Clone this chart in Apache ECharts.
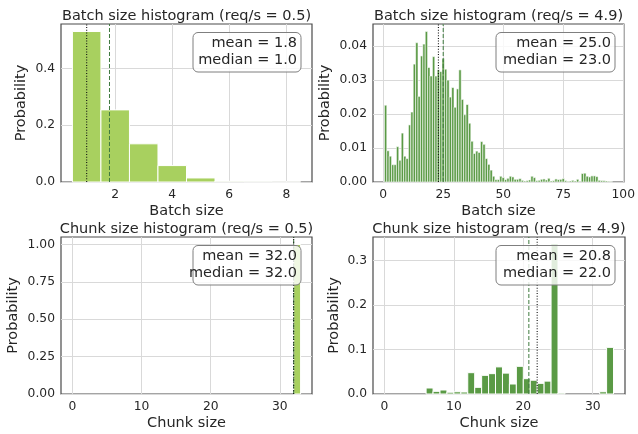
<!DOCTYPE html>
<html>
<head>
<meta charset="utf-8">
<script src="https://cdn.jsdelivr.net/npm/echarts@6/dist/echarts.min.js"></script>
<style>
html,body{margin:0;padding:0;background:#fff;}
#c{width:638px;height:434px;}
</style>
</head>
<body>
<div id="c"></div>
<script>
// ---------- data ----------
const titles = ['Batch size histogram (req/s = 0.5)', 'Batch size histogram (req/s = 4.9)',
                'Chunk size histogram (req/s = 0.5)', 'Chunk size histogram (req/s = 4.9)'];
const xLabels = ['Batch size', 'Batch size', 'Chunk size', 'Chunk size'];
const yLabel = 'Probability';
const means = [1.8, 25.0, 32.0, 20.8];
const medians = [1.0, 23.0, 32.0, 22.0];

// panel 1: batch size, 0.5 req/s (bins centred on integers)
const batchLowBins = [1, 2, 3, 4, 5, 6, 7, 8];
const batchLowProb = [0.530, 0.254, 0.1345, 0.0578, 0.0142, 0.0025, 0.001, 0.0005];

// panel 2: batch size, 4.9 req/s (bins centred on integers 1..95)
const batchHighBins = [];
for (let i = 1; i <= 95; i++) batchHighBins.push(i);
const batchHighProb = [
  0.0226, 0.0092, 0.0076, 0.0051, 0.0051, 0.0104, 0.0064, 0.0144, 0.0076, 0.0069,
  0.0168, 0.0206, 0.0347, 0.0410, 0.0252, 0.0371, 0.0406, 0.0443, 0.0337, 0.0312,
  0.0369, 0.0312, 0.0330, 0.0325, 0.0363, 0.0332, 0.0300, 0.0250, 0.0278, 0.0220,
  0.0274, 0.0330, 0.0243, 0.0198, 0.0228, 0.0173, 0.0120, 0.0084, 0.0091, 0.0087,
  0.0119, 0.0111, 0.0069, 0.0052, 0.0035, 0.0017, 0.0007, 0.0007, 0.0017, 0.0013,
  0.0007, 0.0011, 0.0017, 0.0015, 0.0008, 0.0008, 0.0010, 0.0005, 0.0003, 0.0004,
  0.0006, 0.0017, 0.0013, 0.0004, 0.0005, 0.0008, 0.0009, 0.0006, 0.0011, 0.0003,
  0.0004, 0.0009, 0.0007, 0.0008, 0.0010, 0.0004, 0.0002, 0.0003, 0.0005, 0.0003,
  0.0008, 0.0002, 0.0025, 0.0026, 0.0017, 0.0015, 0.0018, 0.0018, 0.0016, 0.0005,
  0.0004, 0.0004, 0.0003, 0.0002, 0.0001
];

// panel 3: chunk size, 0.5 req/s (bins [n, n+1))
const chunkLowBins = [32];
const chunkLowProb = [1.0];

// panel 4: chunk size, 4.9 req/s
const chunkHighBins = [6, 7, 8, 9, 10, 11, 12, 13, 14, 15, 16, 17, 18, 19, 20, 21, 22, 23, 24, 25, 31, 32];
const chunkHighProb = [0.0135, 0.006, 0.009, 0.004, 0.005, 0.0045, 0.048, 0.015, 0.042, 0.0458,
                       0.061, 0.047, 0.0225, 0.0623, 0.0345, 0.031, 0.024, 0.029, 0.337, 0.002,
                       0.005, 0.105];

// tick labels
const xTicks = [[2, 4, 6, 8], [0, 25, 50, 75, 100], [0, 10, 20, 30], [0, 10, 20, 30]];
const yTicks = [[0, 0.2, 0.4], [0, 0.01, 0.02, 0.03, 0.04], [0, 0.25, 0.5, 0.75, 1.0], [0, 0.1, 0.2, 0.3]];
const yDecimals = [1, 2, 2, 1];

// ---------- layout / style ----------
const FONT = 'DejaVu Sans';
const TXT = '#262626';
const LIGHT = '#a8d05f';
const DARK = '#5a9a45';
const grids = [
  {left: 61, top: 24, width: 251, height: 158},
  {left: 373, top: 24, width: 251, height: 158},
  {left: 61, top: 237, width: 251, height: 157},
  {left: 373, top: 237, width: 252, height: 157}
];
const xRanges = [[0.1, 8.9], [-4.25, 100.25], [-1.65, 34.65], [-1.65, 34.65]];
const yMax = [0.5565, 0.0465, 1.05, 0.3534];

const panels = [
  {bins: batchLowBins, probs: batchLowProb, off: -0.5, color: LIGHT, edge: 1},
  {bins: batchHighBins, probs: batchHighProb, off: -0.5, color: DARK, edge: 0.6},
  {bins: chunkLowBins, probs: chunkLowProb, off: 0, color: LIGHT, edge: 1},
  {bins: chunkHighBins, probs: chunkHighProb, off: 0, color: DARK, edge: 1}
];

function barRender(color, edge) {
  return function (params, api) {
    const x0 = api.value(0), x1 = api.value(1), v = api.value(2);
    const p0 = api.coord([x0, v]);
    const p1 = api.coord([x1, 0]);
    return {
      type: 'rect',
      shape: {x: p0[0], y: p0[1], width: p1[0] - p0[0], height: p1[1] - p0[1]},
      style: {fill: color, stroke: '#ffffff', lineWidth: edge}
    };
  };
}
function vlineRender(params, api) {
  const x = api.value(0), kind = api.value(1);
  const p = api.coord([x, 0]);
  const cs = params.coordSys;
  return {
    type: 'line',
    shape: {x1: p[0], y1: cs.y + cs.height, x2: p[0], y2: cs.y},
    style: kind === 0
      ? {stroke: '#3f7a3f', lineWidth: 1, lineDash: [4, 2]}
      : {stroke: '#111111', lineWidth: 1.1, lineDash: [1, 1.7]},
    z2: 5
  };
}

const gridOpt = [], xAxes = [], yAxes = [], series = [];
grids.forEach((g, i) => {
  gridOpt.push(Object.assign({show: true, borderColor: '#4a4a4a', borderWidth: 1.2, backgroundColor: '#fff'}, g));
  xAxes.push({
    type: 'value', gridIndex: i, min: xRanges[i][0], max: xRanges[i][1],
    axisLine: {show: false}, axisTick: {show: false, customValues: xTicks[i]},
    axisLabel: {customValues: xTicks[i], color: TXT, fontFamily: FONT, fontSize: 12.3, margin: 7,
                formatter: v => String(v)},
    splitLine: {show: true, lineStyle: {color: '#d9d9d9', width: 1}}
  });
  yAxes.push({
    type: 'value', gridIndex: i, min: 0, max: yMax[i],
    axisLine: {show: false}, axisTick: {show: false, customValues: yTicks[i]},
    axisLabel: {customValues: yTicks[i], color: TXT, fontFamily: FONT, fontSize: 12.3, margin: 6,
                formatter: v => Number(v).toFixed(yDecimals[i])},
    splitLine: {show: true, lineStyle: {color: '#d9d9d9', width: 1}}
  });
  const p = panels[i];
  const data = p.bins.map((b, k) => [b + p.off, b + p.off + 1, p.probs[k]]);
  series.push({
    type: 'custom', xAxisIndex: i, yAxisIndex: i, renderItem: barRender(p.color, p.edge),
    data: data, encode: {x: [0, 1], y: 2}, silent: true, z: 2
  });
  series.push({
    type: 'custom', xAxisIndex: i, yAxisIndex: i, renderItem: vlineRender,
    data: [[means[i], 0], [medians[i], 1]], encode: {x: 0}, silent: true, z: 3
  });
});

const option = {
  animation: false,
  backgroundColor: '#ffffff',
  grid: gridOpt, xAxis: xAxes, yAxis: yAxes, series: series
};
const chart = echarts.init(document.getElementById('c'), null, {renderer: 'canvas'});
chart.setOption(option);

// text elements (titles, axis names, stat boxes)
const els = [];
const ylabX = [21, 325, 13, 334];
grids.forEach((g, i) => {
  els.push({type: 'text', x: g.left + g.width / 2, y: g.top - 7.5, z: 50,
    style: {text: titles[i], fill: TXT, font: '14.5px "' + FONT + '"', align: 'center', verticalAlign: 'middle'}});
  els.push({type: 'text', x: g.left + g.width / 2, y: g.top + g.height + 29, z: 50,
    style: {text: xLabels[i], fill: TXT, font: '14.5px "' + FONT + '"', align: 'center', verticalAlign: 'middle'}});
  els.push({type: 'text', x: ylabX[i], y: g.top + g.height / 2, rotation: Math.PI / 2, z: 50,
    style: {text: yLabel, fill: TXT, font: '14.5px "' + FONT + '"', align: 'center', verticalAlign: 'middle'}});
  const bx = i % 2 === 0 ? [193, 301] : [496, 615];
  const by = g.top + 8.5;
  els.push({type: 'rect', shape: {x: bx[0], y: by, width: bx[1] - bx[0], height: 39.5, r: 5}, z: 60,
    style: {fill: 'rgba(255,255,255,0.82)', stroke: '#7f7f7f', lineWidth: 1}});
  els.push({type: 'text', x: bx[1] - 4, y: by + 10.5, z: 61,
    style: {text: 'mean = ' + means[i].toFixed(1), fill: TXT, font: '14.5px "' + FONT + '"', align: 'right', verticalAlign: 'middle'}});
  els.push({type: 'text', x: bx[1] - 4, y: by + 28, z: 61,
    style: {text: 'median = ' + medians[i].toFixed(1), fill: TXT, font: '14.5px "' + FONT + '"', align: 'right', verticalAlign: 'middle'}});
});
chart.setOption({graphic: {elements: els}});
</script>
</body>
</html>
